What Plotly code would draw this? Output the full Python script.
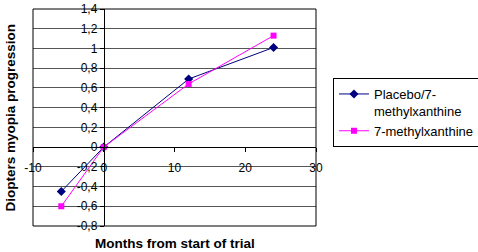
import plotly.graph_objects as go

months = [-6, 0, 12, 24]
placebo = [-0.45, 0.0, 0.69, 1.01]
methyl = [-0.6, 0.0, 0.64, 1.13]
series_names = ["Placebo/7-<br>methylxanthine", "7-methylxanthine"]

y_ticks = [-0.8, -0.6, -0.4, -0.2, 0, 0.2, 0.4, 0.6, 0.8, 1.0, 1.2, 1.4]
y_labels = ["-0,8", "-0,6", "-0,4", "-0,2", "0", "0,2", "0,4", "0,6", "0,8", "1", "1,2", "1,4"]
x_ticks = [-10, 0, 10, 20, 30]
x_labels = ["-10", "0", "10", "20", "30"]

FONT = "Liberation Sans, Arial, sans-serif"

fig = go.Figure()
fig.add_trace(go.Scatter(x=months, y=placebo, name=series_names[0], mode="lines+markers",
                         line=dict(color="#000080", width=1),
                         marker=dict(symbol="diamond", size=7, color="#000080")))
fig.add_trace(go.Scatter(x=months, y=methyl, name=series_names[1], mode="lines+markers",
                         line=dict(color="#FF00FF", width=1),
                         marker=dict(symbol="square", size=6, color="#FF00FF")))

fig.update_layout(
    width=478, height=252,
    margin=dict(l=33, r=162, t=9, b=26, autoexpand=False),
    plot_bgcolor="white", paper_bgcolor="white",
    font=dict(family=FONT, size=12, color="black"),
    showlegend=True,
    legend=dict(x=1.06, y=0.682, xanchor="left", yanchor="top",
                bordercolor="black", borderwidth=1, bgcolor="white",
                font=dict(size=13, family=FONT), tracegroupgap=2,
                itemwidth=30, valign="top"),
    xaxis=dict(range=[-10, 30], tickvals=x_ticks, ticktext=x_labels,
               anchor="free", position=(0 + 0.8) / 2.2, automargin=False,
               showline=True, linecolor="black", linewidth=1,
               showgrid=False, zeroline=False,
               ticks="outside", ticklen=4, tickcolor="black",
               ticklabelstandoff=6),
    yaxis=dict(range=[-0.8, 1.4], tickvals=y_ticks, ticktext=y_labels,
               anchor="free", position=(0 + 10) / 40, automargin=False,
               showline=True, linecolor="black", linewidth=1,
               showgrid=True, gridcolor="#555555", gridwidth=1, zeroline=False,
               ticks="outside", ticklen=4, tickcolor="black"),
    shapes=[dict(type="rect", xref="paper", yref="paper", x0=0, x1=1, y0=0, y1=1,
                 line=dict(color="black", width=1), layer="above")],
    annotations=[
        dict(text="<b>Diopters myopia progression</b>", xref="paper", yref="paper",
             x=-23 / 283, y=0.5, xanchor="center", yanchor="middle", textangle=-90,
             showarrow=False, font=dict(size=13.5, family=FONT)),
        dict(text="<b>Months from start of trial</b>", xref="paper", yref="paper",
             x=0.5, y=-17 / 217, xanchor="center", yanchor="middle",
             showarrow=False, font=dict(size=13.5, family=FONT)),
    ],
)

fig.write_html("out.html", config={"displayModeBar": False},
               post_script="document.body.style.margin='0';")
